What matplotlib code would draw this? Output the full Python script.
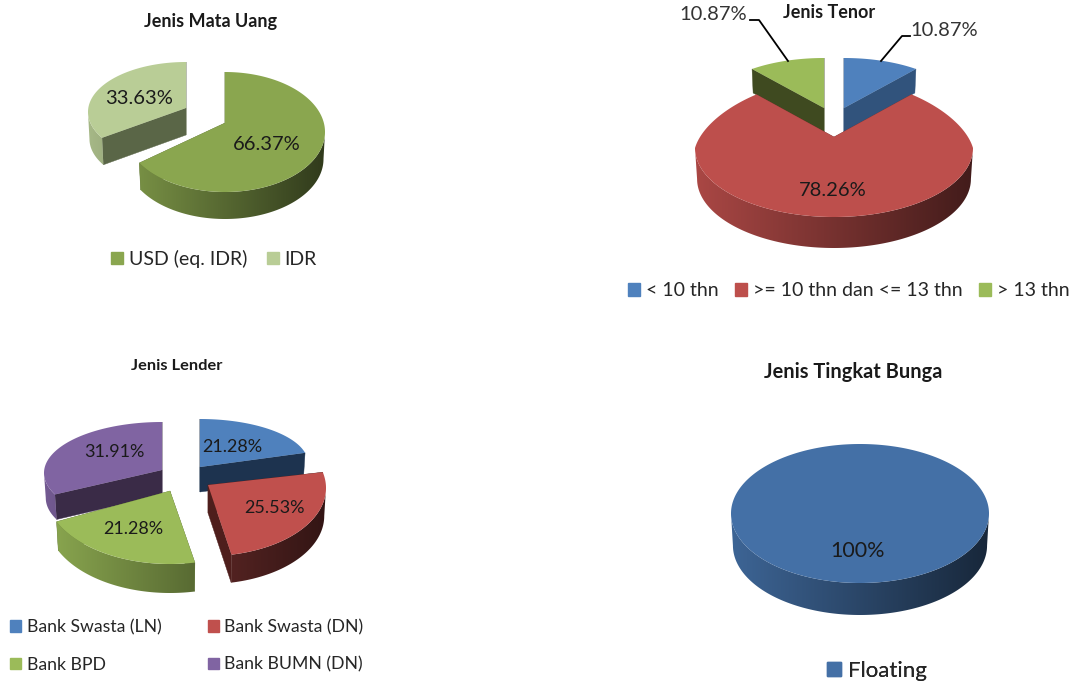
import numpy as np
import matplotlib
matplotlib.use("Agg")
import matplotlib.pyplot as plt
from matplotlib.patches import Patch, Polygon

plt.rcParams['font.family'] = ['Lato', 'DejaVu Sans']

# data ---------------------------
mata_uang_labels = ['USD (eq. IDR)', 'IDR']
mata_uang_values = [66.37, 33.63]

tenor_labels = ['< 10 thn', '>= 10 thn dan <= 13 thn', '> 13 thn']
tenor_values = [10.87, 78.26, 10.87]

lender_labels = ['Bank Swasta (LN)', 'Bank Swasta (DN)', 'Bank BPD', 'Bank BUMN (DN)']
lender_values = [21.28, 25.53, 21.28, 31.91]

bunga_labels = ['Floating']
bunga_values = [100]

# colors -------------------------
mata_uang_colors = ['#8aa64f', '#b9cd96']
mata_uang_walls = ['#5f7534', '#5a6647']
tenor_colors = ['#4f81bd', '#bd4f4c', '#9bbb59']
tenor_walls = ['#31537c', '#7a3230', '#3f4a20']
lender_colors = ['#4f81bd', '#c0504d', '#9bbb59', '#8064a2']
lender_walls = ['#1d334f', '#4e1e1c', '#5f7534', '#3a2b47']
lender_rim = [1, 0.75, 1, 1]
bunga_colors = ['#4470a6']
bunga_walls = ['#2f4d72']

# layout of each slice: apex x, apex y, rx, ry, center offset from apex, depth, back narrowing
mata_uang_geo = [(225, 123, 100, 60, 9, 27, 0), (186, 108, 98, 50, 4, 27, 0)]
tenor_geo = [(844, 108, 114, 49, -1, 24, 0), (834, 137, 139, 69, 11, 31, 0.148),
             (824, 108, 114, 49, -1, 24, 0)]
lender_geo = [(200, 467, 108, 44, -4, 25, 0), (208, 485, 118, 68, 3, 28, 0),
              (170, 491, 125, 73, 0, 29, 0), (162, 470, 118, 51, 3, 25, 0)]
bunga_geo = [(860, 513.5, 129, 69.5, 0, 32, 0)]


def slice_3d(ax, a0, a1, geo, color, wall, z, full=False, rim=1):
    # a0 -> a1 goes clockwise, angles in degrees
    x0, y0, rx, ry, dy, depth, back = geo
    cy = y0 + dy
    shrink = 0.985
    th = np.radians(np.linspace(a0, a1, 300))
    xs = x0 + rx * np.cos(th) * (1 - back * np.clip(np.sin(th), 0, 1))
    ys = cy - ry * np.sin(th)

    # flat walls at both cuts
    if not full:
        for i in [0, -1]:
            wx = [x0, xs[i], x0 + (xs[i] - x0) * shrink, x0]
            wy = [y0, ys[i], ys[i] + depth, y0 + depth]
            ax.fill(wx, wy, color=wall, lw=0.3, zorder=z)

    # rim, only the part that looks to the front, shaded left to right
    lo = max(a1, -180)
    hi = min(a0, 0)
    if hi > lo:
        t = np.radians(np.linspace(hi, lo, 200))
        top_x = x0 + rx * np.cos(t)
        bot_x = x0 + rx * shrink * np.cos(t)
        rim_y = cy - ry * np.sin(t)
        outline = np.c_[np.r_[top_x, bot_x[::-1]], np.r_[rim_y, rim_y[::-1] + depth]]
        factor = (0.9 - 0.55 * np.linspace(0, 1, 256)) * rim
        grad = np.outer(factor, matplotlib.colors.to_rgb(color))[np.newaxis, :, :]
        im = ax.imshow(grad, extent=(x0 - rx, x0 + rx, cy + ry + depth, cy), aspect='auto',
                       interpolation='bilinear', zorder=z)
        im.set_clip_path(Polygon(outline, transform=ax.transData))

    # top face
    if full:
        ax.fill(xs, ys, color=color, lw=0, zorder=z + 0.5)
    else:
        ax.fill(np.r_[x0, xs], np.r_[y0, ys], color=color, lw=0, zorder=z + 0.5)


def pie_3d(ax, values, colors, walls, geos, order, rims=None):
    a = 90.0
    angles = []
    for v in values:
        angles.append((a, a - v * 3.6))
        a = a - v * 3.6
    for z, i in enumerate(order):
        slice_3d(ax, angles[i][0], angles[i][1], geos[i], colors[i], walls[i], 2 + z,
                 full=len(values) == 1, rim=1 if rims is None else rims[i])


def legend_at(ax, labels, colors, x, y, size, ncol, spacing=1.0, labelspacing=0.5):
    handles = [Patch(color=c) for c in colors]
    leg = ax.legend(handles, labels, loc='center', bbox_to_anchor=(x, y),
                    bbox_transform=ax.transData, frameon=False, ncol=ncol,
                    fontsize=size, handlelength=0.62, handleheight=0.62,
                    handletextpad=0.3, columnspacing=spacing,
                    labelspacing=labelspacing, borderpad=0, borderaxespad=0,
                    labelcolor='#262626')
    ax.add_artist(leg)


fig = plt.figure(figsize=(10.76, 6.86), dpi=100)
ax = fig.add_axes([0, 0, 1, 1])
ax.set_xlim(0, 1076)
ax.set_ylim(686, 0)
ax.autoscale(False)
ax.axis('off')

# pies ---------------------------
pie_3d(ax, mata_uang_values, mata_uang_colors, mata_uang_walls, mata_uang_geo, [1, 0])
pie_3d(ax, tenor_values, tenor_colors, tenor_walls, tenor_geo, [0, 2, 1])
pie_3d(ax, lender_values, lender_colors, lender_walls, lender_geo, [0, 3, 1, 2], lender_rim)
pie_3d(ax, bunga_values, bunga_colors, bunga_walls, bunga_geo, [0])

# titles -------------------------
ax.text(210, 21, 'Jenis Mata Uang', ha='center', va='center', fontsize=13, fontweight='bold', color='#1a1a1a')
ax.text(829, 13, 'Jenis Tenor', ha='center', va='center', fontsize=13, fontweight='bold', color='#1a1a1a')
ax.text(177, 366, 'Jenis Lender', ha='center', va='center', fontsize=11.8, fontweight='bold', color='#1a1a1a')
ax.text(853, 372, 'Jenis Tingkat Bunga', ha='center', va='center', fontsize=14.4, fontweight='bold', color='#1a1a1a')

# data labels --------------------
lab = dict(ha='center', va='center', color='#1a1a1a', zorder=20)
ax.text(267, 144, f'{mata_uang_values[0]:.2f}%', fontsize=14.5, **lab)
ax.text(139, 98, f'{mata_uang_values[1]:.2f}%', fontsize=14.5, **lab)

ax.text(944, 31, f'{tenor_values[0]:.2f}%', fontsize=14.5, ha='center', va='center', color='#333333')
ax.text(833, 190, f'{tenor_values[1]:.2f}%', fontsize=14.5, **lab)
ax.text(713, 14, f'{tenor_values[2]:.2f}%', fontsize=14.5, ha='center', va='center', color='#333333')
ax.plot([881, 902, 910], [61, 36, 36], color='black', lw=1.3, zorder=20)
ax.plot([788, 759, 750], [61, 20, 20], color='black', lw=1.3, zorder=20)

ax.text(232, 447, f'{lender_values[0]:.2f}%', fontsize=13, **lab)
ax.text(274, 508, f'{lender_values[1]:.2f}%', fontsize=13, **lab)
ax.text(133, 529, f'{lender_values[2]:.2f}%', fontsize=13, **lab)
ax.text(114, 452, f'{lender_values[3]:.2f}%', fontsize=13, **lab)

ax.text(858, 551, f'{bunga_values[0]}%', fontsize=15.5, **lab)

# legends ------------------------
legend_at(ax, mata_uang_labels, mata_uang_colors, 214, 259, 14, 2, spacing=1.0)
legend_at(ax, tenor_labels, tenor_colors, 849, 291, 14, 3, spacing=0.85)
# matplotlib fills columns first, so swap to keep the row order of the reference
legend_at(ax, [lender_labels[i] for i in [0, 2, 1, 3]], [lender_colors[i] for i in [0, 2, 1, 3]],
          187, 646, 12.7, 2, spacing=2.65, labelspacing=1.2)
legend_at(ax, bunga_labels, bunga_colors, 877, 671, 16, 1)

fig.savefig('out.png', dpi=100)
